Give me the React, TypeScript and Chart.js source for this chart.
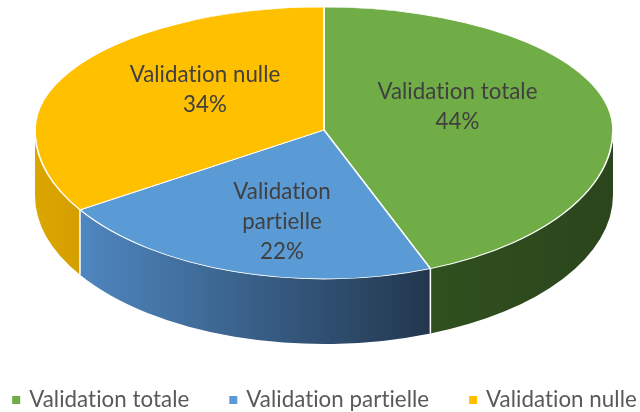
import React, { useEffect, useRef } from "react";
import { Chart, registerables } from "chart.js";

Chart.register(...registerables);

// ---- data ----
const categories = ["Validation totale", "Validation partielle", "Validation nulle"];
const values = [44, 22, 34];
const labelLines = [["Validation totale"], ["Validation", "partielle"], ["Validation nulle"]];

// ---- styles ----
const topColors = ["#70AD47", "#5B9BD5", "#FFC000"];
const sideColors = [
  ["#30501F", "#2B451C"],
  ["#4F87C0", "#22374E"],
  ["#DCA600", "#D49F00"],
];

// ellipse geometry (screen px)
const CX = 324;
const CY = 130;
const RX = 289;
const RY_UP = 123;
const RY_DOWN = 149;
const DEPTH = 65;
const FONT = "Lato, 'Open Sans', sans-serif";
const FONT_SIZE = 22.3;

const pie3d = {
  id: "pie3d",
  beforeDatasetsDraw(chart: any) {
    const ctx: CanvasRenderingContext2D = chart.ctx;
    const arcs: any[] = chart.getDatasetMeta(0).data;
    if (!arcs.length) return false;
    const px = arcs[0].x;
    const py = arcs[0].y;
    const R = arcs[0].outerRadius;
    const sx = RX / R;

    // outer wall (front half)
    arcs.forEach((arc: any, i: number) => {
      const s = Math.max(arc.startAngle, 0);
      const e = Math.min(arc.endAngle, Math.PI);
      if (s >= e) return;
      ctx.save();
      ctx.translate(CX, CY);
      ctx.scale(sx, RY_DOWN / R);
      ctx.translate(-px, -py);
      const D = (DEPTH * R) / RY_DOWN;
      ctx.beginPath();
      ctx.arc(px, py, R, s, e);
      ctx.arc(px, py + D, R, e, s, true);
      ctx.closePath();
      ctx.restore();
      const xRight = CX + RX * Math.cos(s);
      const xLeft = CX + RX * Math.cos(e);
      const g = ctx.createLinearGradient(xLeft, 0, xRight, 0);
      g.addColorStop(0, sideColors[i][0]);
      g.addColorStop(1, sideColors[i][1]);
      ctx.fillStyle = g;
      ctx.fill();
    });
    // wall dividers
    ctx.save();
    ctx.strokeStyle = "#FFFFFF";
    ctx.lineWidth = 1.5;
    arcs.forEach((arc: any) => {
      const a = arc.startAngle;
      if (a > 0 && a < Math.PI) {
        const x = CX + RX * Math.cos(a);
        const y = CY + RY_DOWN * Math.sin(a);
        ctx.beginPath();
        ctx.moveTo(x, y);
        ctx.lineTo(x, y + DEPTH);
        ctx.stroke();
      }
    });
    ctx.restore();

    // top face, drawn in two halves
    const halves = [
      { ry: RY_UP, top: 0, h: CY },
      { ry: RY_DOWN, top: CY, h: chart.height - CY },
    ];
    halves.forEach((hf) => {
      ctx.save();
      ctx.beginPath();
      ctx.rect(0, hf.top, chart.width, hf.h);
      ctx.clip();
      ctx.translate(CX, CY);
      ctx.scale(sx, hf.ry / R);
      ctx.translate(-px, -py);
      arcs.forEach((a: any) => a.draw(ctx));
      ctx.restore();
    });
    return false;
  },
  afterDraw(chart: any) {
    const ctx: any = chart.ctx;
    const arcs: any[] = chart.getDatasetMeta(0).data;
    const total = values.reduce((a, b) => a + b, 0);
    ctx.save();
    ctx.font = `${FONT_SIZE}px ${FONT}`;
    try {
      ctx.letterSpacing = "0.05px";
    } catch (e) {}
    ctx.textAlign = "center";
    ctx.textBaseline = "middle";
    ctx.fillStyle = "#404040";
    arcs.forEach((arc: any, i: number) => {
      const m = (arc.startAngle + arc.endAngle) / 2;
      const sn = Math.sin(m);
      const x = CX + RX * 0.47 * Math.cos(m);
      const y = sn < 0 ? CY - 12 + RY_UP * 0.47 * sn : CY - 12 + RY_DOWN * 0.73 * sn;
      const lines = [...labelLines[i], Math.round((values[i] / total) * 100) + "%"];
      const lh = 30;
      lines.forEach((t, k) => {
        ctx.fillText(t, x, y + (k - (lines.length - 1) / 2) * lh);
      });
    });

    // legend
    ctx.textAlign = "left";
    ctx.fillStyle = "#595959";
    const box = 8;
    const gap = 9;
    const spacing = 40;
    const widths = categories.map((c) => ctx.measureText(c).width);
    const totalW = widths.reduce((a, w) => a + box + gap + w, 0) + spacing * (categories.length - 1);
    let lx = 324.5 - totalW / 2;
    const ly = 400;
    categories.forEach((c, i) => {
      ctx.fillStyle = topColors[i];
      ctx.fillRect(lx, ly - box / 2, box, box);
      ctx.fillStyle = "#595959";
      ctx.fillText(c, lx + box + gap, ly);
      lx += box + gap + widths[i] + spacing;
    });
    ctx.restore();
  },
};

export default function App() {
  const ref = useRef<HTMLCanvasElement>(null);
  useEffect(() => {
    if (!ref.current) return;
    const chart = new Chart(ref.current, {
      type: "pie",
      data: {
        labels: categories,
        datasets: [
          {
            data: values,
            backgroundColor: topColors,
            borderColor: "#FFFFFF",
            borderWidth: 1.2,
          },
        ],
      },
      options: {
        responsive: false,
        animation: false,
        events: [],
        layout: { padding: 0 },
        plugins: {
          legend: { display: false },
          tooltip: { enabled: false },
        },
      },
      plugins: [pie3d],
    });
    return () => chart.destroy();
  }, []);
  return (
    <div style={{ position: "absolute", left: 0, top: 0, width: 640, height: 412, background: "#fff" }}>
      <canvas ref={ref} width={640} height={412} style={{ display: "block" }} />
    </div>
  );
}
